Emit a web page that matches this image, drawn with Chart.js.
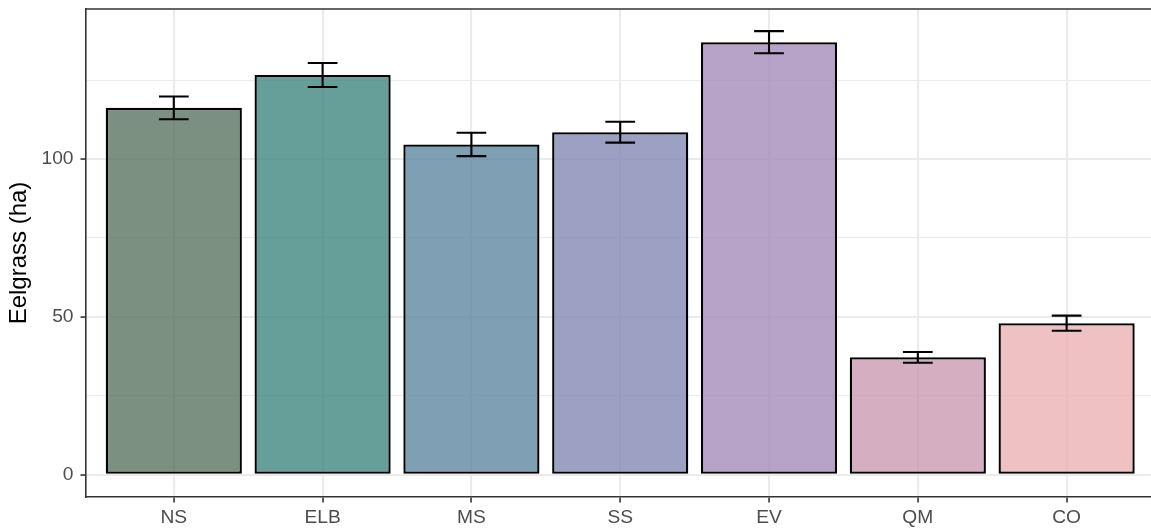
<!DOCTYPE html>
<html>
<head>
<meta charset="utf-8">
<script src="https://cdn.jsdelivr.net/npm/chart.js@4"></script>
<style>
  html, body { margin: 0; padding: 0; background: #ffffff; }
  #eelgrassChart { display: block; }
</style>
</head>
<body>
<canvas id="eelgrassChart" width="1151" height="529"></canvas>
<script>
const sites = ["NS", "ELB", "MS", "SS", "EV", "QM", "CO"];
const meanArea = [116.2, 126.6, 104.6, 108.5, 137.0, 37.2, 48.0];
const seArea = [3.6, 3.8, 3.7, 3.3, 3.5, 1.7, 2.4];
const yTicks = [0, 25, 50, 75, 100, 125];
const yLabelled = [0, 50, 100];
const siteColors = [
  "rgba(90,116,96,0.8)",
  "rgba(64,134,129,0.8)",
  "rgba(95,135,161,0.8)",
  "rgba(131,137,180,0.8)",
  "rgba(165,140,185,0.8)",
  "rgba(203,154,179,0.8)",
  "rgba(235,178,179,0.8)"
];

const FONT = "'Liberation Sans', Arial, sans-serif";

// whiskers for mean +/- se, drawn on top of the bars
const errorBars = {
  id: "errorBars",
  afterDatasetsDraw(chart) {
    const { ctx, scales: { x, y } } = chart;
    const capHalf = 0.1 * (x.getPixelForValue(1) - x.getPixelForValue(0));
    ctx.save();
    ctx.strokeStyle = "#000000";
    ctx.lineWidth = 2.1;
    meanArea.forEach((m, i) => {
      const px = x.getPixelForValue(i);
      const hi = y.getPixelForValue(m + seArea[i]);
      const lo = y.getPixelForValue(m - seArea[i]);
      ctx.beginPath();
      ctx.moveTo(px, hi); ctx.lineTo(px, lo);
      ctx.moveTo(px - capHalf, hi); ctx.lineTo(px + capHalf, hi);
      ctx.moveTo(px - capHalf, lo); ctx.lineTo(px + capHalf, lo);
      ctx.stroke();
    });
    ctx.restore();
  }
};

// top edge of the panel box (left and bottom come from the axis borders)
const panelTop = {
  id: "panelTop",
  afterDraw(chart) {
    const { ctx, chartArea } = chart;
    ctx.save();
    ctx.strokeStyle = "#333333";
    ctx.lineWidth = 1.6;
    ctx.beginPath();
    ctx.moveTo(chartArea.left, chartArea.top);
    ctx.lineTo(chartArea.right, chartArea.top);
    ctx.stroke();
    ctx.restore();
  }
};

const eelgrassChart = new Chart(document.getElementById("eelgrassChart"), {
  type: "bar",
  data: {
    datasets: [{
      label: "Eelgrass (ha)",
      data: meanArea.map((v, i) => ({ x: i, y: v })),
      backgroundColor: siteColors,
      borderColor: "#000000",
      borderWidth: 2.3,
      borderSkipped: false,
      barPercentage: 0.915,
      categoryPercentage: 1.0
    }]
  },
  options: {
    responsive: false,
    devicePixelRatio: 1,
    animation: false,
    layout: { padding: { top: 9, right: 0, bottom: 0, left: 0 } },
    plugins: {
      legend: { display: false },
      tooltip: { enabled: false }
    },
    scales: {
      x: {
        type: "linear",
        offset: false,
        min: -0.59,
        max: 6.567,
        afterBuildTicks: axis => { axis.ticks = sites.map((s, i) => ({ value: i })); },
        afterFit: axis => { axis.height = 32; axis.paddingLeft = 0; axis.paddingRight = 0; },
        ticks: {
          callback: v => sites[v],
          autoSkip: false,
          maxRotation: 0,
          padding: 4,
          color: "#4d4d4d",
          font: { family: FONT, size: 19.2 }
        },
        grid: {
          offset: false,
          color: "#ebebeb",
          lineWidth: 2.1,
          tickLength: 5.5,
          tickColor: "#333333",
          tickWidth: 1.6
        },
        border: { display: true, color: "#333333", width: 1.6 }
      },
      y: {
        min: -7.03,
        max: 147.5,
        afterBuildTicks: axis => { axis.ticks = yTicks.map(v => ({ value: v })); },
        afterFit: axis => { axis.width = 86; axis.paddingTop = 0; axis.paddingBottom = 0; },
        ticks: {
          callback: v => (yLabelled.includes(v) ? String(v) : ""),
          padding: 7,
          color: "#4d4d4d",
          font: { family: FONT, size: 19.2 }
        },
        grid: {
          color: "#ebebeb",
          lineWidth: ctx => (yLabelled.includes(ctx.tick.value) ? 2.1 : 1.1),
          tickLength: 5.5,
          tickColor: ctx => (yLabelled.includes(ctx.tick.value) ? "#333333" : "rgba(0,0,0,0)"),
          tickWidth: 1.6
        },
        border: { display: true, color: "#333333", width: 1.6 },
        title: {
          display: true,
          text: "Eelgrass (ha)",
          color: "#000000",
          font: { family: FONT, size: 24 },
          padding: { top: 5, bottom: 0 }
        }
      }
    }
  },
  plugins: [errorBars, panelTop]
});
</script>
</body>
</html>
